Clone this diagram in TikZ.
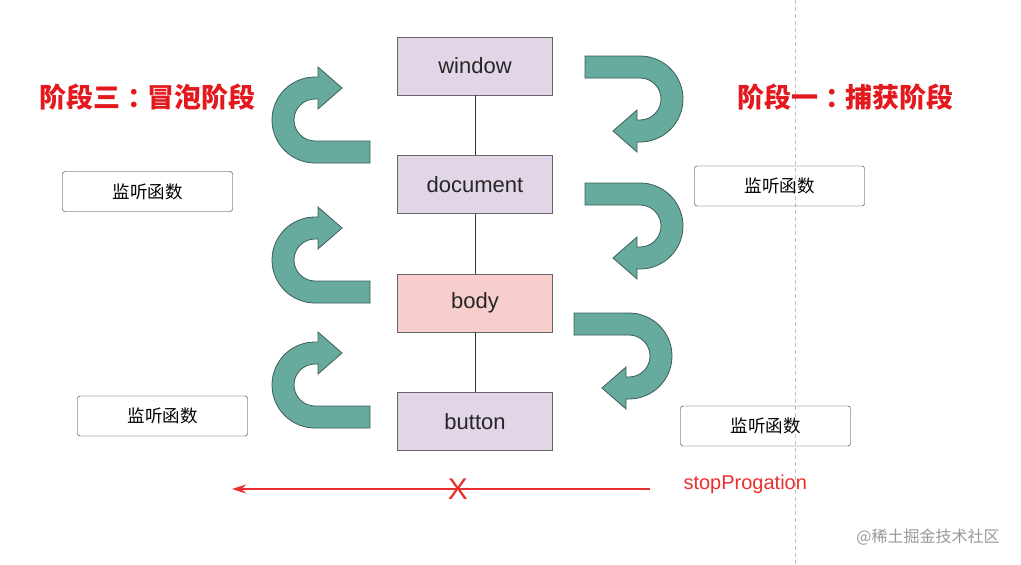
\documentclass[tikz,border=0pt]{standalone}
\usepackage{fontspec}
\setmainfont{Liberation Sans}
\newfontfamily\cjk{Noto Sans CJK SC}
\usepackage{xcolor}
\usetikzlibrary{positioning,arrows.meta}

\definecolor{domfill}{HTML}{E1D5E7}
\definecolor{bodyfill}{HTML}{F8CECC}
\definecolor{boxline}{HTML}{666666}
\definecolor{turnfill}{HTML}{67AB9F}
\definecolor{turnline}{HTML}{3D5E57}
\definecolor{phasered}{HTML}{E3191E}
\definecolor{stopred}{HTML}{E8302E}

\tikzset{
  uturn/.pic={
    \path[turn] (55,43) -- (0,43) arc[start angle=90, end angle=270, radius=43]
      -- (3,-43) -- (3,-53) -- (27,-32) -- (3,-11) -- (3,-21) -- (0,-21)
      arc[start angle=270, end angle=90, radius=21] -- (55,21) -- cycle;
  }
}

\begin{document}
\begin{tikzpicture}[x=1pt, y=-1pt,
    dom/.style={rectangle, draw=boxline, fill=domfill, minimum width=155pt,
                minimum height=58pt, font=\fontsize{22}{26}\selectfont, text=black!85},
    handler/.style={rectangle, draw=black!85, rounded corners=2.5pt, minimum width=170pt,
                    minimum height=40pt, font=\cjk\fontsize{17.5}{20}\selectfont},
    phase/.style={font=\cjk\bfseries\fontsize{27}{32}\selectfont, text=phasered},
    turn/.style={draw=turnline, fill=turnfill, line width=0.8pt},
    link/.style={draw=black!80, line width=0.8pt},
    guide/.style={draw=black!25, dash pattern=on 4pt off 3pt, line width=0.7pt},
    stoparr/.style={-{Stealth[length=14pt, width=9pt]}, draw=stopred, line width=2pt}
]
\path[fill=white, use as bounding box] (0,0) rectangle (1021,565);
\draw[guide] (795,0) -- (795,565);

% event path
\node[dom] (window) at (475,66) {window};
\node[dom, below=60pt of window] (document) {document};
\node[dom, below=60pt of document, fill=bodyfill] (body) {body};
\node[dom, below=60pt of body] (button) {button};

\draw[link] (window) -- (document);
\draw[link] (document) -- (body);
\draw[link] (body) -- (button);

% phases
\node[phase] (bubblephase) at (147,97) {阶段三\kern8pt：\kern-8pt冒泡阶段};
\node[phase] (capturephase) at (845,97) {阶段一\kern8pt：\kern-8pt捕获阶段};

\foreach \cy in {120,260,385}
  \pic at (315,\cy) {uturn};
\foreach \cx/\cy in {640/99,640/226,629/356}
  \pic[rotate=180] at (\cx,\cy) {uturn};

% listeners
\node[handler] (bubbletop) at (147.5,191.5) {监听函数};
\node[handler] (bubblebottom) at (162.5,416) {监听函数};
\node[handler] (capturetop) at (779.5,186) {监听函数};
\node[handler] (capturebottom) at (765.5,426) {监听函数};

% stopPropagation
\node[anchor=west, text=stopred, font=\fontsize{20}{24}\selectfont] (stop) at (680,484) {stopProgation};
\coordinate (stopfrom) at (650,489);
\coordinate (stopto) at (232,489);
\draw[stoparr] (stopfrom) -- (stopto);
\node[text=stopred, font=\fontsize{30}{32}\selectfont] (cut) at (458,489) {X};

\node[text=black!40, font=\cjk\fontsize{16}{18}\selectfont] (mark) at (928,537) {@稀土掘金技术社区};
\end{tikzpicture}
\end{document}
